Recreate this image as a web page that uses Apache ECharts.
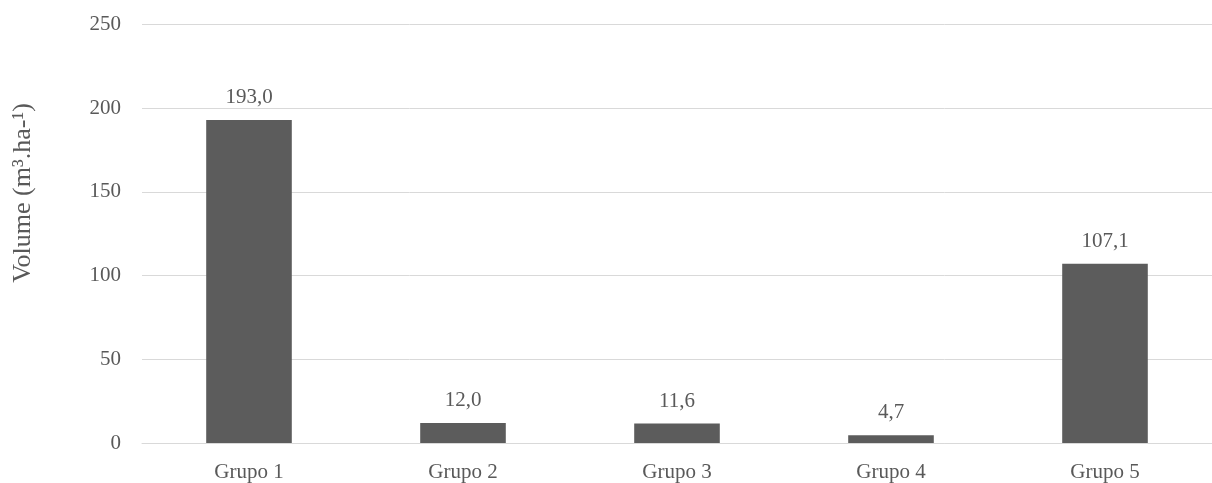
<!DOCTYPE html>
<html>
<head>
<meta charset="utf-8">
<script src="https://cdn.jsdelivr.net/npm/echarts@6/dist/echarts.min.js"></script>
<style>
html,body{margin:0;padding:0;background:#fff;}
#chart{width:1212px;height:483px;}
</style>
</head>
<body>
<div id="chart"></div>
<script>
const categories = ['Grupo 1', 'Grupo 2', 'Grupo 3', 'Grupo 4', 'Grupo 5'];
const volumes = [193.0, 12.0, 11.6, 4.7, 107.1];
const yTicks = [0, 50, 100, 150, 200, 250];
const yTitle = 'Volume (m³.ha-¹)';

const FONT = '"Liberation Serif", "Times New Roman", serif';
const TEXT = '#595959';

const chart = echarts.init(document.getElementById('chart'));
chart.setOption({
  animation: false,
  backgroundColor: '#ffffff',
  grid: { left: 142, top: 24.5, width: 1082, height: 418.5 },
  xAxis: {
    type: 'category',
    data: categories,
    axisTick: { show: false },
    axisLine: { show: true, lineStyle: { color: '#d9d9d9', width: 1 } },
    axisLabel: { color: TEXT, fontFamily: FONT, fontSize: 21, margin: 19 }
  },
  yAxis: {
    type: 'value',
    min: yTicks[0],
    max: yTicks[yTicks.length - 1],
    interval: yTicks[1] - yTicks[0],
    axisLine: { show: false },
    axisTick: { show: false },
    splitLine: { lineStyle: { color: '#d9d9d9', width: 1 } },
    axisLabel: { color: TEXT, fontFamily: FONT, fontSize: 21, margin: 21 }
  },
  graphic: [{
    type: 'text',
    x: 23,
    y: 193,
    rotation: Math.PI / 2,
    style: {
      text: yTitle,
      fill: TEXT,
      font: '26px ' + FONT,
      align: 'center',
      verticalAlign: 'middle'
    }
  }],
  series: [{
    type: 'bar',
    data: volumes,
    barWidth: '40%',
    itemStyle: { color: '#5c5c5c' },
    label: {
      show: true,
      position: 'top',
      distance: 12,
      color: TEXT,
      fontFamily: FONT,
      fontSize: 21,
      formatter: p => p.value.toFixed(1).replace('.', ',')
    }
  }]
});
</script>
</body>
</html>
